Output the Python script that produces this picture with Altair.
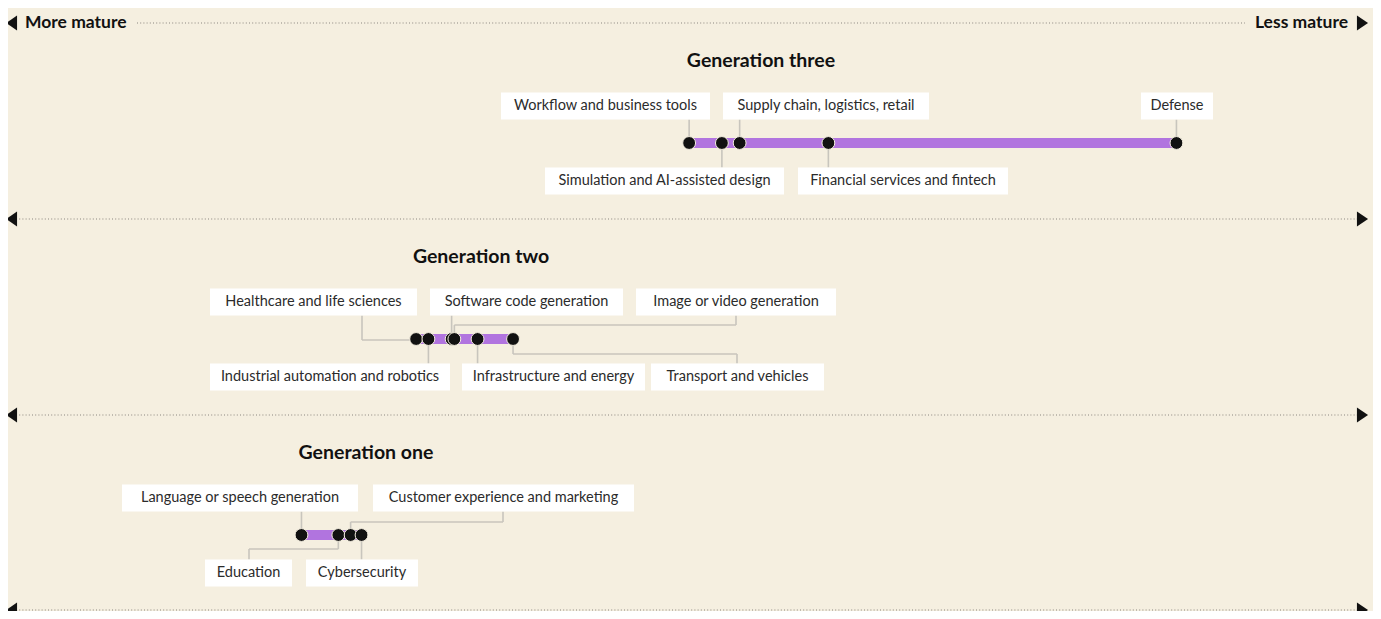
import altair as alt
import pandas as pd

# ---------------- data ----------------
generations = ["Generation three", "Generation two", "Generation one"]

gen3_names = ["Workflow and business tools", "Simulation and AI-assisted design",
              "Supply chain, logistics, retail", "Financial services and fintech", "Defense"]
gen3_maturity = [49.9, 52.3, 53.6, 60.1, 85.6]

gen2_names = ["Healthcare and life sciences", "Industrial automation and robotics",
              "Software code generation", "Image or video generation",
              "Infrastructure and energy", "Transport and vehicles"]
gen2_maturity = [29.9, 30.8, 32.5, 32.7, 34.4, 37.0]

gen1_names = ["Language or speech generation", "Education",
              "Customer experience and marketing", "Cybersecurity"]
gen1_maturity = [21.5, 24.2, 25.1, 25.9]

axis_left_label = "More mature"
axis_right_label = "Less mature"

# ---------------- layout / style ----------------
W, H = 1365, 603
X_MAX = 100.0
PXU = W / X_MAX          # pixels per maturity unit
BG = "#f5efe0"
PURPLE = "#b174df"
INK = "#111111"
TEXT = "#2b2b2b"
CONNECTOR = "#c8c5bd"
DOTTED = "#8a867f"
FONT = "Lato"
DY = 1  # small vertical nudge


def ux(page_px):
    """page pixel -> maturity units (for annotation layout only)"""
    return (page_px - 8) / PXU


def uy(page_px):
    return page_px - 8 + DY


row_y = {"Generation three": 142, "Generation two": 338, "Generation one": 534}
title_x = {"Generation three": 761, "Generation two": 481, "Generation one": 366}
separator_y = {"Generation three": 218, "Generation two": 414, "Generation one": 609}

# side, box left, box right, connector x (None = at dot), elbow dy (None = straight)
layouts = {
    "Generation three": [("top", 501, 710, None, None),
                         ("bottom", 545, 784, None, None),
                         ("top", 723, 929, None, None),
                         ("bottom", 798, 1008, None, None),
                         ("top", 1141, 1213, None, None)],
    "Generation two": [("top", 210, 417, 362, 1),
                       ("bottom", 210, 450, None, None),
                       ("top", 430, 623, None, None),
                       ("top", 636, 836, 736, -14),
                       ("bottom", 462, 645, None, None),
                       ("bottom", 651, 824, 737, 15)],
    "Generation one": [("top", 122, 358, None, None),
                       ("bottom", 205, 292, 249, 14),
                       ("top", 373, 634, 503, -13),
                       ("bottom", 306, 418, None, None)],
}
names = {"Generation three": gen3_names, "Generation two": gen2_names, "Generation one": gen1_names}
values = {"Generation three": gen3_maturity, "Generation two": gen2_maturity, "Generation one": gen1_maturity}

dots, bars, boxes, segs, titles = [], [], [], [], []
BOX_OFF_TOP, BOX_OFF_BOT, BOX_HALF = -37, 38, 13.5

for g in generations:
    yd = uy(row_y[g])
    vals = values[g]
    bars.append({"gen": g, "x": min(vals), "x2": max(vals), "y": yd})
    titles.append({"gen": g, "x": ux(title_x[g]), "y": yd - 82})
    for name, v, (side, bl, br, cx, edy) in zip(names[g], vals, layouts[g]):
        dots.append({"gen": g, "name": name, "x": v, "y": yd})
        cy = yd + (BOX_OFF_TOP if side == "top" else BOX_OFF_BOT)
        boxes.append({"name": name, "x": ux(bl), "x2": ux(br), "y": cy - BOX_HALF, "y2": cy + BOX_HALF,
                      "xc": (ux(bl) + ux(br)) / 2, "yc": cy})
        edge = cy + BOX_HALF if side == "top" else cy - BOX_HALF
        cxu = v if cx is None else ux(cx)
        if edy is None:
            segs.append({"x": v, "x2": v, "y": yd, "y2": edge})
        else:
            ye = yd + edy
            segs.append({"x": v, "x2": v, "y": yd, "y2": ye})
            segs.append({"x": v, "x2": cxu, "y": ye, "y2": ye})
            segs.append({"x": cxu, "x2": cxu, "y": ye, "y2": edge})

# separators (dotted lines with arrowheads)
seps = [{"x": ux(16), "x2": ux(1360), "y": uy(separator_y[g])} for g in generations]
seps.append({"x": ux(137), "x2": ux(1245), "y": uy(22)})
left_tris = [{"x": ux(11.5), "y": uy(separator_y[g])} for g in generations] + [{"x": ux(11.5), "y": uy(22)}]
right_tris = [{"x": ux(1362.5), "y": uy(separator_y[g])} for g in generations] + [{"x": ux(1362.5), "y": uy(22)}]
header = pd.DataFrame([
    {"t": axis_left_label, "x": ux(25), "y": uy(22), "a": "left"},
    {"t": axis_right_label, "x": ux(1348), "y": uy(22), "a": "right"},
])

xs = alt.Scale(domain=[0, X_MAX], range=[0, W], nice=False, zero=False)
ys = alt.Scale(domain=[0, H], range=[0, H], nice=False, zero=False)


def X(f="x"):
    return alt.X(f"{f}:Q", scale=xs, axis=None)


def Y(f="y"):
    return alt.Y(f"{f}:Q", scale=ys, axis=None)


sep_layer = alt.Chart(pd.DataFrame(seps)).mark_rule(
    color=DOTTED, strokeWidth=1.2, strokeDash=[1, 2.2]
).encode(x=X(), x2=alt.X2("x2"), y=Y())

tri_l = alt.Chart(pd.DataFrame(left_tris)).mark_point(
    shape="M0.75,-1L0.75,1L-0.75,0Z", filled=True, size=220, color=INK, opacity=1
).encode(x=X(), y=Y())
tri_r = alt.Chart(pd.DataFrame(right_tris)).mark_point(
    shape="M-0.75,-1L-0.75,1L0.75,0Z", filled=True, size=220, color=INK, opacity=1
).encode(x=X(), y=Y())

conn_layer = alt.Chart(pd.DataFrame(segs)).mark_rule(
    color=CONNECTOR, strokeWidth=1.6
).encode(x=X(), x2=alt.X2("x2"), y=Y(), y2=alt.Y2("y2"))

box_df = pd.DataFrame(boxes)
box_layer = alt.Chart(box_df).mark_rect(color="white").encode(
    x=X(), x2=alt.X2("x2"), y=Y(), y2=alt.Y2("y2"))
label_layer = alt.Chart(box_df).mark_text(
    font=FONT, fontSize=14.5, color=TEXT, align="center", baseline="middle"
).encode(x=X("xc"), y=Y("yc"), text="name:N")

bar_layer = alt.Chart(pd.DataFrame(bars)).mark_rule(
    color=PURPLE, strokeWidth=10, strokeCap="butt"
).encode(x=X(), x2=alt.X2("x2"), y=Y())

dot_layer = alt.Chart(pd.DataFrame(dots)).mark_circle(
    size=165, color=INK, opacity=1, stroke=BG, strokeWidth=1
).encode(x=X(), y=Y())

title_layer = alt.Chart(pd.DataFrame(titles)).mark_text(
    font=FONT, fontSize=19.5, fontWeight="bold", color=INK, align="center", baseline="middle"
).encode(x=X(), y=Y(), text="gen:N")

header_l = alt.Chart(header[header.a == "left"]).mark_text(
    font=FONT, fontSize=17.5, fontWeight="bold", color=INK, align="left", baseline="middle"
).encode(x=X(), y=Y(), text="t:N")
header_r = alt.Chart(header[header.a == "right"]).mark_text(
    font=FONT, fontSize=17.5, fontWeight="bold", color=INK, align="right", baseline="middle"
).encode(x=X(), y=Y(), text="t:N")

chart = alt.layer(
    sep_layer, tri_l, tri_r, conn_layer, box_layer, label_layer,
    bar_layer, dot_layer, title_layer, header_l, header_r
).properties(
    width=W, height=H, padding=0,
    autosize=alt.AutoSizeParams(type="none"),
    background=BG,
).configure_view(stroke=None)

chart.save("out.html", embed_options={"renderer": "svg", "actions": False})
